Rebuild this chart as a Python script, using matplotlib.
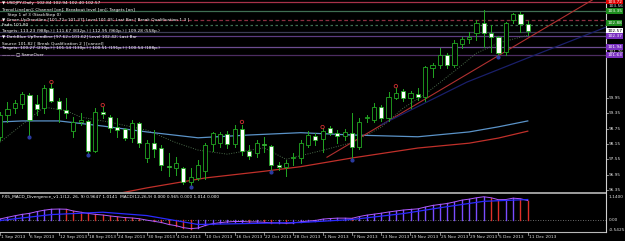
import matplotlib.pyplot as plt
from matplotlib.lines import Line2D
from matplotlib.patches import Rectangle
import matplotlib.transforms as mtransforms

W, H = 625, 241
BAR_PX = 7.33          # pixel distance between bars
PLOT_W = 606           # right edge of chart area (px)

# ---- price data (daily candles) ----
opens = [98.42, 99.28, 99.55, 99.71, 100.06, 99.71, 99.55, 100.34, 99.83, 99.48,
         98.65, 99.01, 99.05, 97.87, 99.40, 99.20, 98.81, 98.73, 98.38, 98.97,
         97.60, 98.18, 97.99, 97.29, 97.21, 97.21, 96.66, 96.82, 97.10, 98.14,
         98.18, 98.54, 98.14, 98.73, 97.87, 97.79, 98.14, 98.07, 97.33, 97.25,
         97.60, 97.60, 98.11, 98.46, 98.34, 98.77, 98.57, 98.46, 98.57, 98.03,
         99.16, 99.08, 99.59, 99.16, 99.94, 100.22, 99.94, 100.10, 99.98, 101.12,
         101.24, 101.63, 101.24, 102.06, 102.25, 102.49, 102.88, 102.49, 102.33, 101.74,
         103.00, 103.23, 102.84]
highs = [99.40, 99.79, 99.87, 100.18, 100.14, 100.06, 100.45, 100.53, 99.94, 99.94,
         99.20, 99.36, 99.08, 99.55, 99.59, 99.28, 99.16, 98.77, 99.08, 99.01,
         98.30, 98.69, 98.11, 97.79, 97.64, 97.25, 97.21, 97.52, 98.18, 98.62,
         98.62, 98.65, 98.89, 98.89, 98.11, 98.30, 98.42, 98.11, 97.44, 97.52,
         97.79, 98.30, 98.65, 98.57, 98.77, 98.85, 98.69, 98.73, 99.36, 99.16,
         99.28, 99.75, 99.67, 100.18, 100.34, 100.30, 100.22, 100.34, 101.20, 101.32,
         101.90, 101.71, 102.21, 102.33, 102.53, 103.00, 103.39, 102.80, 102.37, 102.92,
         103.27, 103.31, 102.94]
lows = [98.30, 99.01, 99.36, 99.55, 98.50, 99.28, 99.36, 99.79, 99.01, 99.16,
        98.42, 98.89, 97.79, 97.83, 99.16, 98.62, 98.42, 98.30, 98.22, 98.03,
        97.44, 97.64, 97.13, 96.90, 96.93, 96.58, 96.54, 96.74, 96.78, 97.87,
        98.03, 97.99, 98.03, 97.72, 97.56, 97.64, 97.83, 97.13, 97.13, 96.90,
        97.33, 97.40, 98.03, 98.11, 97.83, 98.50, 98.18, 98.30, 97.60, 97.95,
        99.01, 99.01, 99.05, 99.05, 99.90, 99.83, 99.55, 99.87, 99.83, 100.77,
        101.12, 101.12, 101.16, 101.90, 102.10, 102.21, 101.94, 101.74, 101.63, 101.63,
        102.88, 102.53, 102.40]
closes = [99.28, 99.51, 99.75, 100.10, 99.08, 99.51, 100.34, 99.83, 99.51, 99.36,
          99.01, 99.08, 97.87, 99.40, 99.32, 98.77, 98.69, 98.38, 98.97, 98.18,
          98.18, 97.95, 97.33, 97.25, 97.40, 96.66, 96.85, 97.33, 98.11, 98.57,
          98.54, 98.14, 98.73, 97.87, 97.68, 98.18, 98.11, 97.33, 97.25, 97.40,
          97.64, 98.18, 98.50, 98.30, 98.65, 98.57, 98.46, 98.62, 98.03, 99.01,
          99.20, 99.59, 99.16, 99.98, 100.14, 99.94, 100.14, 99.98, 101.16, 101.24,
          101.63, 101.24, 102.10, 102.25, 102.33, 102.88, 102.49, 102.33, 101.71, 102.88,
          103.23, 102.84, 102.57]

# fractal marks
up_frac_idx = [7, 14, 33, 44, 54]
up_frac_val = [100.57, 99.67, 99.01, 98.81, 100.41]
dn_frac_idx = [4, 12, 26, 37, 48, 68]
dn_frac_val = [98.44, 97.71, 96.46, 97.06, 97.53, 101.55]

# moving averages (bar index, price)
ma_blue_idx = [0, 3, 8, 14, 20, 27, 34, 41, 48, 57, 64, 68, 72]
ma_blue_val = [99.01, 99.05, 99.05, 98.85, 98.62, 98.39, 98.50, 98.59, 98.50, 98.43, 98.62, 98.82, 99.05]
ma_red_idx = [15, 20, 28, 36, 41, 48, 57, 64, 68, 72]
ma_red_val = [96.15, 96.43, 96.82, 97.08, 97.26, 97.60, 97.99, 98.18, 98.38, 98.65]
ma_dot_idx = [0, 6, 9, 11, 15, 20, 24, 27, 31, 36, 39, 44, 48, 52, 55, 58, 62, 65, 68, 72]
ma_dot_val = [98.22, 99.59, 99.45, 99.20, 99.00, 98.69, 98.20, 97.91, 97.75, 98.00, 97.55, 97.90,
              98.20, 98.80, 99.55, 100.10, 101.00, 101.70, 102.10, 102.40]

# trend lines (bar index, price)
red_trend_idx = [44.6, 80.8]
red_trend_val = [97.63, 103.78]
navy_trend_idx = [52.0, 63.7, 72.3, 82.7]
navy_trend_val = [98.90, 100.57, 101.55, 102.72]

# horizontal level lines
levels = [103.70, 103.35, 103.00, 102.80, 102.53, 102.37, 101.94, 101.63]
level_colors = ['#a8324a', '#3f6e52', '#8a2e40', '#3f6e52', '#3c3c55', '#5c3c80', '#6c4c90', '#4c2c60']
level_styles = ['-', '-', (0, (3, 2)), (0, (2, 2)), '-', '-', '-', '-']

# price scale labels on the right
axis_prices = [99.95, 99.35, 98.75, 98.15, 97.55, 96.95, 96.35]
tag_prices = [103.72, 103.35, 102.88, 102.57, 102.37, 101.94, 101.63]
tag_texts = ['103.72', '103.35', '102.88', '102.57', '102.37', '101.94', '101.63']
tag_colors = ['#e00000', '#1e8c1e', '#1e8c1e', '#ffffff', '#7a30c0', '#7a30c0', '#7a30c0']
plain_tag_prices = [103.56, 101.76]

# MACD
macd_hist = [0.03, 0.11, 0.19, 0.26, 0.31, 0.40, 0.47, 0.52, 0.53, 0.52,
             0.43, 0.37, 0.31, 0.26, 0.23, 0.18, 0.14, 0.10, 0.08, 0.04,
             -0.03, -0.09, -0.15, -0.25, -0.31, -0.41, -0.46, -0.43, -0.30, -0.21,
             -0.16, -0.12, -0.10, -0.10, -0.12, -0.12, -0.14, -0.17, -0.17, -0.19,
             -0.17, -0.12, -0.08, -0.05, 0.02, 0.05, 0.07, 0.07, 0.06, 0.15,
             0.22, 0.27, 0.32, 0.38, 0.43, 0.48, 0.51, 0.54, 0.63, 0.71,
             0.76, 0.81, 0.89, 0.98, 1.03, 1.10, 1.15, 1.10, 1.00, 1.01,
             1.08, 1.05, 0.96]
signal_idx = [0, 7, 14, 20, 27, 34, 41, 48, 55, 61, 66, 72]
signal_val = [-0.05, 0.25, 0.37, 0.20, -0.25, -0.20, -0.15, 0.00, 0.30, 0.65, 0.92, 1.01]

date_labels = ['1 Sep 2013', '6 Sep 2013', '12 Sep 2013', '18 Sep 2013', '24 Sep 2013',
               '30 Sep 2013', '4 Oct 2013', '10 Oct 2013', '16 Oct 2013', '22 Oct 2013',
               '28 Oct 2013', '1 Nov 2013', '7 Nov 2013', '13 Nov 2013', '19 Nov 2013',
               '25 Nov 2013', '29 Nov 2013', '5 Dec 2013', '11 Dec 2013']

info_lines = [
    '\u25bc USDJPY,Daily  102.84 102.94 102.40 102.57',
    'Trend Line[on]; Channel [on]; Breakout level [on]; Targets [on]',
    '    Step 1 of 3 (StackStep 0)',
    '\u25bc Green UpTrendline [101.72=101.37] Level 101.05; Last Bar [ Break Qualification 1 3 ]',
    'Fade 101.80',
    'Targets: 113.23 (988p.) | 111.67 (832p.) | 112.95 (960p.) | 109.28 (558p.)',
    '\u25bc DarkBlue UpTrendline [97.62=101.62] Level 102.42; Last Bar',
    'Source 101.82 [ Break Qualification 2 ] [cancel]',
    'Targets: 100.27 (210p.) | 101.14 (130p.) | 100.51 (191p.) | 100.54 (188p.)',
    '\u2014\u2014\u2014 \u25a1 SameOver',
]
info_y = [3, 10, 15, 20, 25, 31, 37, 43, 48, 54]

GREEN = '#22a822'
FS = 3.1

fig = plt.figure(figsize=(W / 100, H / 100), dpi=100, facecolor='black')

def px_rect(x0, y0, x1, y1):
    return [x0 / W, 1 - y1 / H, (x1 - x0) / W, (y1 - y0) / H]

ax = fig.add_axes(px_rect(0, 0, PLOT_W, 192))
axm = fig.add_axes(px_rect(0, 193, PLOT_W, 231))
for a in (ax, axm):
    a.set_facecolor('black')
    a.axis('off')

xmax = PLOT_W / BAR_PX
ax.set_xlim(-0.02, xmax)
ax.set_ylim(96.27, 103.78)
axm.set_xlim(-0.02, xmax)
axm.set_ylim(-0.58, 1.34)

# horizontal levels
for lv, c, ls in zip(levels, level_colors, level_styles):
    ax.axhline(lv, color=c, lw=0.9, ls=ls, zorder=1)

# moving averages / trend lines
ax.plot(ma_dot_idx, ma_dot_val, color='#4a6a4a', lw=0.7, ls=(0, (1, 1.5)), zorder=2)
ax.plot(ma_blue_idx, ma_blue_val, color='#5b93c8', lw=0.9, zorder=2)
ax.plot(ma_red_idx, ma_red_val, color='#c0302a', lw=0.9, zorder=2)
ax.plot(red_trend_idx, red_trend_val, color='#b03030', lw=0.8, zorder=2)
ax.plot(navy_trend_idx, navy_trend_val, color='#1a1f6a', lw=0.9, zorder=2)

# candles
bw = 0.56
for i, (o, h, l, c) in enumerate(zip(opens, highs, lows, closes)):
    ax.plot([i, i], [l, h], color=GREEN, lw=0.7, zorder=3)
    lo, hi = min(o, c), max(o, c)
    face = 'black' if c >= o else 'white'
    ax.add_patch(Rectangle((i - bw / 2, lo), bw, max(hi - lo, 0.02),
                           facecolor=face, edgecolor=GREEN, lw=0.6, zorder=4))

ax.scatter(up_frac_idx, up_frac_val, s=6, facecolors='none', edgecolors='#d03030', lw=0.6, zorder=5)
ax.scatter(dn_frac_idx, dn_frac_val, s=4, color='#2a3aa0', zorder=5)

# MACD panel
axm.axhline(0, color='#909090', lw=0.6, ls=(0, (1, 2)))
for i, v in enumerate(macd_hist):
    rising = i == 0 or v >= macd_hist[i - 1]
    axm.plot([i, i], [0, v], color='#7a4cff' if rising else '#e0302a', lw=1.0)
axm.plot(range(len(macd_hist)), macd_hist, color='#b05aff', lw=0.7)
axm.plot(signal_idx, signal_val, color='#2a2aff', lw=0.9)

# frame lines
fig.add_artist(Line2D([0, PLOT_W / W], [1 - 192.5 / H] * 2, color='#b8b8b8', lw=1.2))
fig.add_artist(Line2D([0, PLOT_W / W], [1 - 232 / H] * 2, color='#b8b8b8', lw=0.8))
fig.add_artist(Line2D([PLOT_W / W] * 2, [1 - 232 / H, 1], color='#d0d0d0', lw=0.8))

# price scale text
blend = mtransforms.blended_transform_factory(fig.transFigure, ax.transData)
for p in axis_prices:
    fig.add_artist(Line2D([PLOT_W / W, (PLOT_W + 2) / W], [p, p], color='#d0d0d0', lw=0.5, transform=blend))
    fig.text(608.5 / W, p, f'{p:.2f}', transform=blend, color='#e0e0e0', fontsize=FS, va='center', ha='left')
for p, t, c in zip(tag_prices, tag_texts, tag_colors):
    fig.text(607 / W, p, t, transform=blend, color='black' if c == '#ffffff' else 'white',
             fontsize=FS, va='center', ha='left',
             bbox=dict(boxstyle='square,pad=0.15', fc=c, ec='none'))
for p in plain_tag_prices:
    fig.text(608.5 / W, p, f'{p:.2f}', transform=blend, color='#e0e0e0', fontsize=FS, va='center', ha='left')

blend_m = mtransforms.blended_transform_factory(fig.transFigure, axm.transData)
for v, t in zip([1.14, 0.0, -0.5425], ['1.1400', '0.00', '-0.5425']):
    fig.text(608.5 / W, v, t, transform=blend_m, color='#e0e0e0', fontsize=FS, va='center', ha='left')

# date axis
for k, lab in enumerate(date_labels):
    xp = k * 4 * BAR_PX
    fig.add_artist(Line2D([xp / W] * 2, [1 - 232 / H, 1 - 235 / H], color='#c0c0c0', lw=0.5))
    fig.text((xp + 1) / W, 1 - 237 / H, lab, color='#e0e0e0', fontsize=FS, va='center', ha='left')

# info texts
for t, y in zip(info_lines, info_y):
    fig.text(2 / W, 1 - y / H, t, color='white', fontsize=FS, va='center', ha='left')
fig.text(2 / W, 1 - 197 / H,
         'FX5_MACD_Divergence_v1.1(12, 26, 9) 0.9647 1.0141  MACD(12,26,9) 0.000 0.965 0.000 1.014 0.000',
         color='white', fontsize=FS, va='center', ha='left')

fig.savefig('out.png', dpi=100, facecolor='black')
